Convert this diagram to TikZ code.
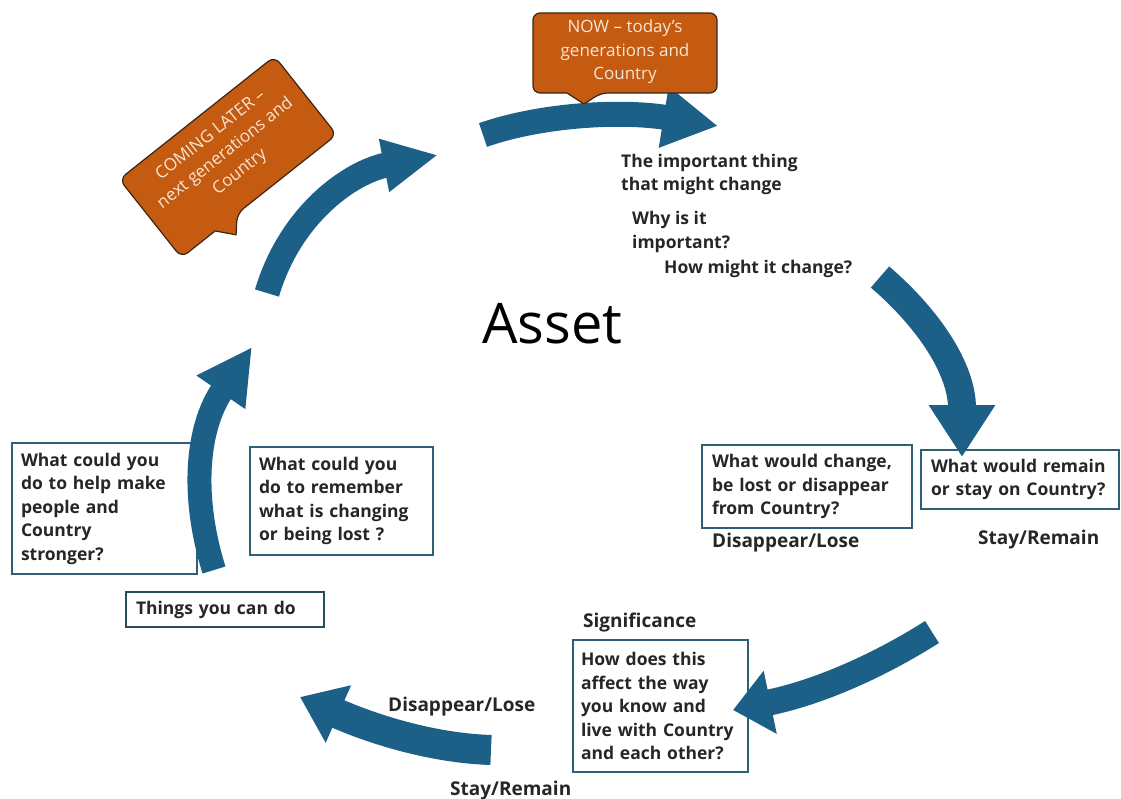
\documentclass[tikz,border=0pt]{standalone}
\usepackage{fontspec}
\setmainfont{Open Sans}
\usetikzlibrary{arrows.meta}
\definecolor{arrowblue}{HTML}{1C6088}
\definecolor{callorange}{HTML}{C55A11}
\definecolor{callborder}{HTML}{3A2616}
\definecolor{calltext}{HTML}{F7E6D6}
\definecolor{boxborder}{HTML}{2F5F76}
\definecolor{txt}{HTML}{262626}
\newcommand\qfont{\fontsize{17.5}{23.5}\selectfont\bfseries}
\newcommand\lfont{\fontsize{19}{23}\selectfont\bfseries}
\newcommand\cfont{\fontsize{17}{23.5}\selectfont}
\tikzset{
  bigarrow/.style n args={3}{draw=arrowblue,line width=#1,-{Triangle[width=#2,length=#3]}},
  qbox/.style={draw=boxborder,line width=1.5pt,fill=white,anchor=north west,align=left,
    inner xsep=10pt,inner ysep=0pt,outer sep=0pt,font=\qfont,text=txt},
  lbl/.style={font=\lfont,text=txt,inner sep=0pt,anchor=base west},
  qtext/.style={font=\qfont,text=txt,inner sep=0pt,anchor=north west,align=left},
  callfill/.style={fill=callorange,draw=callborder,line width=1.2pt},
  ctext/.style={font=\cfont,text=calltext,align=center,inner sep=0pt}
}
\begin{document}
\begin{tikzpicture}[x=1pt,y=-1pt]
\useasboundingbox (0,0) rectangle (1121,798);

% ---------- boxes ----------
\node[qbox,minimum width=210pt,text width=190pt,minimum height=83pt] (lose) at (702,445)
  {What would change,\\be lost or disappear\\from Country?};
\node[qbox,minimum width=198pt,text width=178pt,minimum height=59pt] (remain) at (921,450)
  {What would remain\\or stay on Country?};
\node[qbox,minimum width=185pt,text width=167pt,inner xsep=9pt,minimum height=131pt] (help) at (12,443)
  {What could you\\do to help make\\people and\\Country\\stronger?};
\node[qbox,minimum width=183pt,text width=165pt,inner xsep=9pt,minimum height=108pt] (remember) at (250,447)
  {What could you\\do to remember\\what is changing\\or being lost ?};
\node[qbox,draw=boxborder!80!black,line width=2.6pt,minimum width=198pt,text width=178pt,minimum height=35pt] (things) at (126,592)
  {Things you can do};
\node[qbox,minimum width=175pt,text width=159pt,inner xsep=8pt,minimum height=132pt] (signif) at (573,640)
  {How does this\\affect the way\\you know and\\live with Country\\and each other?};

% ---------- free labels ----------
\node[qtext] (important) at (621,154) {The important thing\\that might change};
\node[qtext] (why) at (632,211) {Why is it\\important?};
\node[qtext] (how) at (664,260) {How might it change?};
\node[font=\fontsize{56}{60}\selectfont,text=black,inner sep=0pt,anchor=base west] (asset) at (482,343) {Asset};
\node[lbl] (loseR) at (712,547) {Disappear/Lose};
\node[lbl] (stayR) at (978,544) {Stay/Remain};
\node[lbl] (sigt) at (583,627) {Significance};
\node[lbl] (loseB) at (388,711) {Disappear/Lose};
\node[lbl] (stayB) at (450,795) {Stay/Remain};

% ---------- cycle arrows ----------
\coordinate (a1s) at (483,135); \coordinate (a1e) at (718,126);
\draw[bigarrow={25pt}{58pt}{55pt}] (a1s) .. controls (540,115) and (620,110) .. (a1e);
\coordinate (a2s) at (880,277); \coordinate (a2e) at (962,457);
\draw[bigarrow={28pt}{63pt}{52pt}] (a2s) .. controls (930,320) and (962,370) .. (a2e);
\coordinate (a3s) at (932,632); \coordinate (a3e) at (733,710);
\draw[bigarrow={26pt}{62pt}{38pt}] (a3s) .. controls (880,665) and (820,692) .. (a3e);
\coordinate (a4s) at (491,750); \coordinate (a4e) at (300,697);
\draw[bigarrow={30pt}{60pt}{42pt}] (a4s) .. controls (430,748) and (370,728) .. (a4e);
\coordinate (a5s) at (214,570); \coordinate (a5e) at (252,347);
\draw[bigarrow={24pt}{55pt}{55pt}] (a5s) .. controls (192,500) and (195,430) .. (a5e);
\coordinate (a6s) at (267,293); \coordinate (a6e) at (438,155);
\draw[bigarrow={25pt}{50pt}{55pt}] (a6s) .. controls (290,215) and (350,172) .. (a6e);

% ---------- callouts ----------
\draw[callfill,rounded corners=7pt] (533,13) -- (717,13) -- (717,93) -- (601,93)
  [sharp corners] -- (584,104) -- (567,93) [rounded corners=7pt] -- (533,93) -- cycle;
\node[ctext] (now) at (625,52) {NOW – today's\\generations and\\Country};

\begin{scope}[shift={(228,157)},rotate=38.4]
  \draw[callfill,rounded corners=8pt] (-99,-50) -- (99,-50) -- (99,50) -- (-28,50)
    [sharp corners] -- (-42,66) -- (-56,50) [rounded corners=8pt] -- (-99,50) -- cycle;
  \node[ctext,rotate=38.4] (later) at (0,-4) {COMING LATER –\\next generations and\\Country};
\end{scope}
\end{tikzpicture}
\end{document}
